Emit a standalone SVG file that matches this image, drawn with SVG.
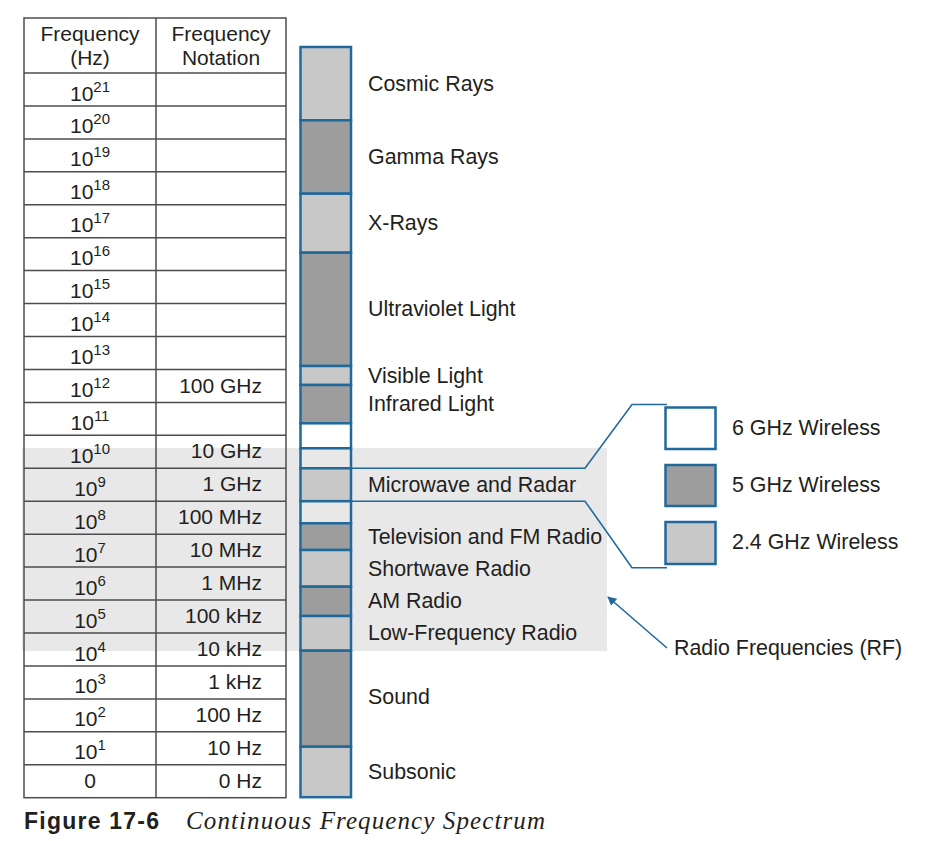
<svg xmlns="http://www.w3.org/2000/svg" width="932" height="841" viewBox="0 0 932 841">
<style>
text{font-family:"Liberation Sans",Arial,sans-serif;font-size:21px;fill:#231f20}
.lbl{font-size:21.4px}
.c{text-anchor:middle}
.r{text-anchor:end}
.sup{font-size:15px}
.grid{stroke:#4d4d4d;stroke-width:1.5;fill:none}
.seg{stroke:#22699b;stroke-width:2.5}
.lt{fill:#c8c8c8}
.dk{fill:#9d9d9d}
.wh{fill:#ffffff}
.bd{fill:#e8e8e8}
.conn{stroke:#22699b;stroke-width:1.6;fill:none}
.leg{stroke:#22699b;stroke-width:2.5}
</style>
<defs>
<marker id="ah" viewBox="0 0 10 10" refX="9" refY="5" markerWidth="9" markerHeight="9" markerUnits="userSpaceOnUse" orient="auto">
<path d="M0,0 L10,5 L0,10 z" fill="#22699b"/>
</marker>
</defs>
<rect width="932" height="841" fill="#ffffff"/>
<!-- RF band -->
<rect id="rf-band" x="22" y="448" width="585" height="203" class="bd"/>

<g id="table">
<rect x="24" y="18" width="262" height="779.7" class="grid"/>
<line x1="156" y1="18" x2="156" y2="797.7" class="grid"/>
<g class="grid">
<line x1="24" y1="73" x2="286" y2="73"/>
<line x1="24" y1="105.9" x2="286" y2="105.9"/>
<line x1="24" y1="138.9" x2="286" y2="138.9"/>
<line x1="24" y1="171.8" x2="286" y2="171.8"/>
<line x1="24" y1="204.8" x2="286" y2="204.8"/>
<line x1="24" y1="237.7" x2="286" y2="237.7"/>
<line x1="24" y1="270.6" x2="286" y2="270.6"/>
<line x1="24" y1="303.6" x2="286" y2="303.6"/>
<line x1="24" y1="336.5" x2="286" y2="336.5"/>
<line x1="24" y1="369.5" x2="286" y2="369.5"/>
<line x1="24" y1="402.4" x2="286" y2="402.4"/>
<line x1="24" y1="435.3" x2="286" y2="435.3"/>
<line x1="24" y1="468.3" x2="286" y2="468.3"/>
<line x1="24" y1="501.2" x2="286" y2="501.2"/>
<line x1="24" y1="534.2" x2="286" y2="534.2"/>
<line x1="24" y1="567.1" x2="286" y2="567.1"/>
<line x1="24" y1="600" x2="286" y2="600"/>
<line x1="24" y1="633" x2="286" y2="633"/>
<line x1="24" y1="665.9" x2="286" y2="665.9"/>
<line x1="24" y1="698.9" x2="286" y2="698.9"/>
<line x1="24" y1="731.8" x2="286" y2="731.8"/>
<line x1="24" y1="764.7" x2="286" y2="764.7"/>
</g>
<text class="c" x="90" y="41">Frequency</text>
<text class="c" x="90" y="65">(Hz)</text>
<text class="c" x="221" y="41">Frequency</text>
<text class="c" x="221" y="65">Notation</text>
<text class="c" x="90" y="100.5">10<tspan class="sup" dy="-9">21</tspan></text>
<text class="c" x="90" y="133.4">10<tspan class="sup" dy="-9">20</tspan></text>
<text class="c" x="90" y="166.4">10<tspan class="sup" dy="-9">19</tspan></text>
<text class="c" x="90" y="199.3">10<tspan class="sup" dy="-9">18</tspan></text>
<text class="c" x="90" y="232.3">10<tspan class="sup" dy="-9">17</tspan></text>
<text class="c" x="90" y="265.2">10<tspan class="sup" dy="-9">16</tspan></text>
<text class="c" x="90" y="298.1">10<tspan class="sup" dy="-9">15</tspan></text>
<text class="c" x="90" y="331.1">10<tspan class="sup" dy="-9">14</tspan></text>
<text class="c" x="90" y="364">10<tspan class="sup" dy="-9">13</tspan></text>
<text class="c" x="90" y="397">10<tspan class="sup" dy="-9">12</tspan></text>
<text class="c" x="90" y="429.9">10<tspan class="sup" dy="-9">11</tspan></text>
<text class="c" x="90" y="462.8">10<tspan class="sup" dy="-9">10</tspan></text>
<text class="c" x="90" y="495.8">10<tspan class="sup" dy="-9">9</tspan></text>
<text class="c" x="90" y="528.7">10<tspan class="sup" dy="-9">8</tspan></text>
<text class="c" x="90" y="561.7">10<tspan class="sup" dy="-9">7</tspan></text>
<text class="c" x="90" y="594.6">10<tspan class="sup" dy="-9">6</tspan></text>
<text class="c" x="90" y="627.5">10<tspan class="sup" dy="-9">5</tspan></text>
<text class="c" x="90" y="660.5">10<tspan class="sup" dy="-9">4</tspan></text>
<text class="c" x="90" y="693.4">10<tspan class="sup" dy="-9">3</tspan></text>
<text class="c" x="90" y="726.4">10<tspan class="sup" dy="-9">2</tspan></text>
<text class="c" x="90" y="759.3">10<tspan class="sup" dy="-9">1</tspan></text>
<text class="c" x="90" y="787.5">0</text>
<text class="r" x="262" y="392.5">100 GHz</text>
<text class="r" x="262" y="458.3">10 GHz</text>
<text class="r" x="262" y="491.3">1 GHz</text>
<text class="r" x="262" y="524.2">100 MHz</text>
<text class="r" x="262" y="557.2">10 MHz</text>
<text class="r" x="262" y="590.1">1 MHz</text>
<text class="r" x="262" y="623">100 kHz</text>
<text class="r" x="262" y="656">10 kHz</text>
<text class="r" x="262" y="688.9">1 kHz</text>
<text class="r" x="262" y="721.9">100 Hz</text>
<text class="r" x="262" y="754.8">10 Hz</text>
<text class="r" x="262" y="787.7">0 Hz</text>
</g>

<g id="spectrum-bar">
<rect id="seg-cosmic" x="300.5" y="47" width="50.5" height="73.3" class="seg lt"/>
<rect id="seg-gamma" x="300.5" y="120.3" width="50.5" height="73.4" class="seg dk"/>
<rect id="seg-xray" x="300.5" y="193.7" width="50.5" height="59" class="seg lt"/>
<rect id="seg-uv" x="300.5" y="252.7" width="50.5" height="113.3" class="seg dk"/>
<rect id="seg-visible" x="300.5" y="366" width="50.5" height="19" class="seg lt"/>
<rect id="seg-infrared" x="300.5" y="385" width="50.5" height="38.3" class="seg dk"/>
<rect id="seg-6ghz" x="300.5" y="423.3" width="50.5" height="25" class="seg wh"/>
<rect id="seg-band1" x="300.5" y="448.3" width="50.5" height="20" class="seg bd"/>
<rect id="seg-microwave" x="300.5" y="468.3" width="50.5" height="32.9" class="seg lt"/>
<rect id="seg-band2" x="300.5" y="501.2" width="50.5" height="22.1" class="seg bd"/>
<rect id="seg-tvfm" x="300.5" y="523.3" width="50.5" height="26.7" class="seg dk"/>
<rect id="seg-shortwave" x="300.5" y="550" width="50.5" height="36.7" class="seg lt"/>
<rect id="seg-am" x="300.5" y="586.7" width="50.5" height="29.3" class="seg dk"/>
<rect id="seg-lf" x="300.5" y="616" width="50.5" height="34.7" class="seg lt"/>
<rect id="seg-sound" x="300.5" y="650.7" width="50.5" height="96" class="seg dk"/>
<rect id="seg-subsonic" x="300.5" y="746.7" width="50.5" height="50.5" class="seg lt"/>
</g>

<g id="spectrum-labels">
<text class="lbl" x="368" y="91">Cosmic Rays</text>
<text class="lbl" x="368" y="164">Gamma Rays</text>
<text class="lbl" x="368" y="230">X-Rays</text>
<text class="lbl" x="368" y="316">Ultraviolet Light</text>
<text class="lbl" x="368" y="383">Visible Light</text>
<text class="lbl" x="368" y="411">Infrared Light</text>
<text class="lbl" x="368" y="492">Microwave and Radar</text>
<text class="lbl" x="368" y="544">Television and FM Radio</text>
<text class="lbl" x="368" y="576">Shortwave Radio</text>
<text class="lbl" x="368" y="608">AM Radio</text>
<text class="lbl" x="368" y="640">Low-Frequency Radio</text>
<text class="lbl" x="368" y="704">Sound</text>
<text class="lbl" x="368" y="779">Subsonic</text>
</g>

<g id="legend-6ghz">
<rect x="665.5" y="407.5" width="50" height="41.5" class="leg wh"/>
<text class="lbl" x="732" y="435">6 GHz Wireless</text>
</g>
<g id="legend-5ghz">
<rect x="665.5" y="465" width="50" height="41" class="leg dk"/>
<text class="lbl" x="732" y="492">5 GHz Wireless</text>
</g>
<g id="legend-24ghz">
<rect x="665.5" y="522" width="50" height="42" class="leg lt"/>
<text class="lbl" x="732" y="549">2.4 GHz Wireless</text>
</g>
<g id="rf-label">
<text class="lbl" x="674" y="655">Radio Frequencies (RF)</text>
</g>

<g id="connectors">
<polyline class="conn" points="351,468.3 585,468.3 632,404.5 667,404.5"/>
<polyline class="conn" points="351,501.2 585,501.2 632,567.7 667,567.7"/>
<line class="conn" x1="667" y1="648" x2="608" y2="597" stroke-width="2" marker-end="url(#ah)"/>
</g>

<g id="caption">
<text x="24" y="829" font-weight="bold" style="font-size:23px" textLength="135" lengthAdjust="spacing">Figure 17-6</text>
<text x="186" y="829" textLength="359" lengthAdjust="spacing" style="font-family:'Liberation Serif','Times New Roman',serif;font-style:italic;font-size:25px">Continuous Frequency Spectrum</text>
</g>
</svg>
